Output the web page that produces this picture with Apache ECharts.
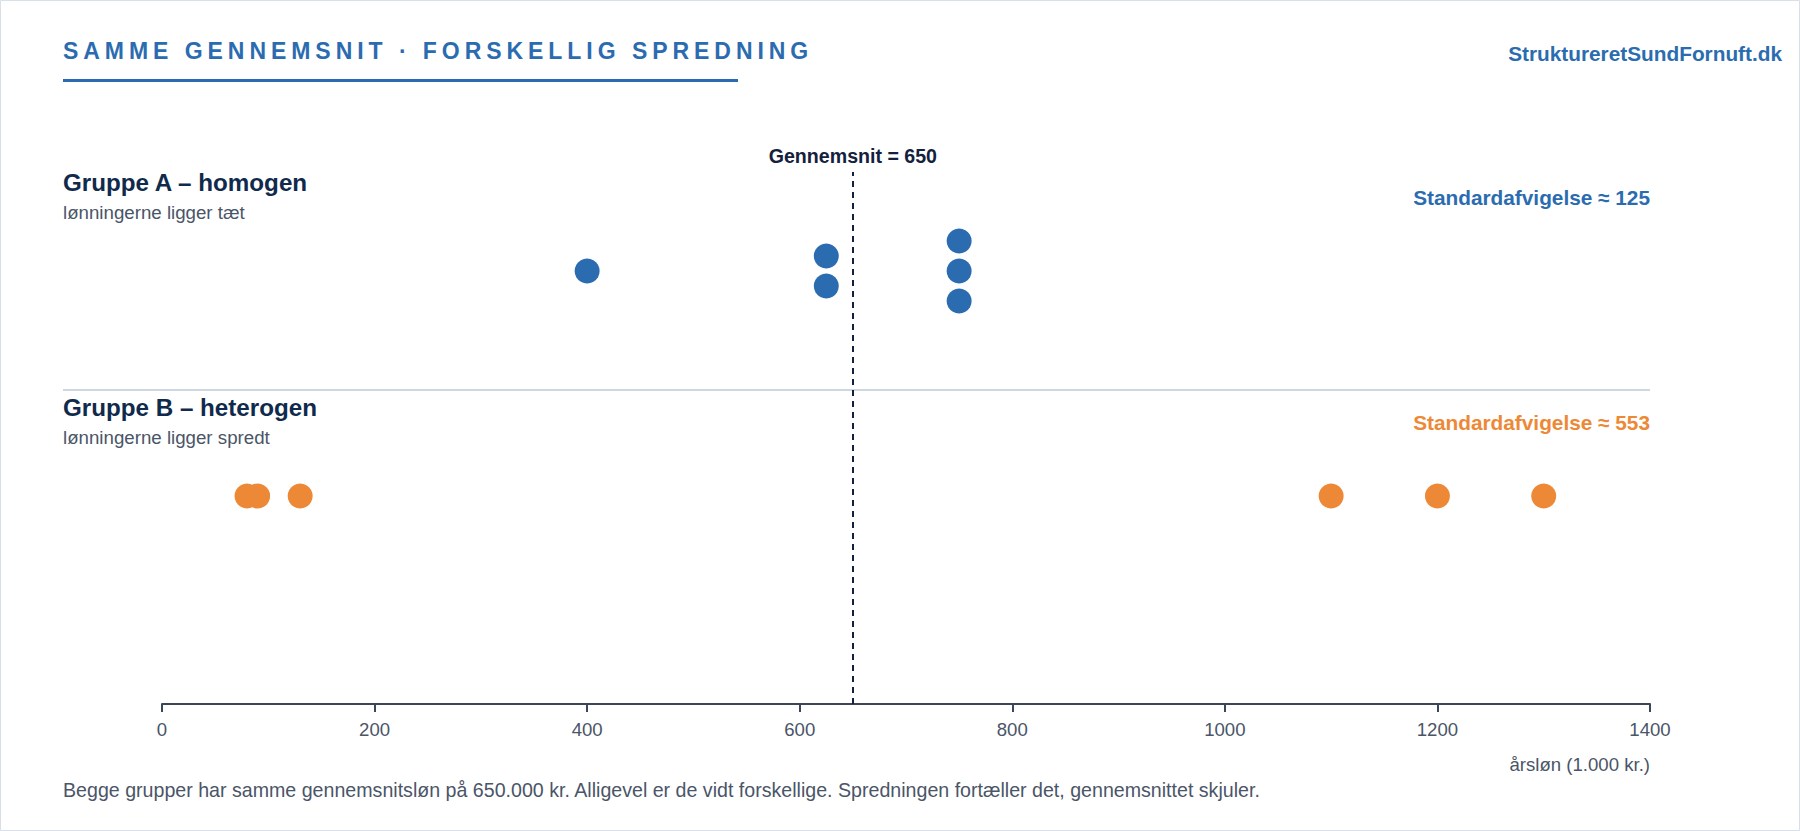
<!DOCTYPE html>
<html>
<head>
<meta charset="utf-8">
<script src="https://cdn.jsdelivr.net/npm/echarts@6/dist/echarts.min.js"></script>
<style>
  html, body { margin: 0; padding: 0; background: #ffffff; }
  #chart { width: 1800px; height: 831px; }
</style>
</head>
<body>
<div id="chart"></div>
<script>
// ---- Data ----
const groupAValues = [400, 625, 625, 750, 750, 750];
const groupBValues = [80, 90, 130, 1100, 1200, 1300];
const xTicks = [0, 200, 400, 600, 800, 1000, 1200, 1400];
const groupNames = ['Gruppe A – homogen', 'Gruppe B – heterogen'];
const groupSubs = ['lønningerne ligger tæt', 'lønningerne ligger spredt'];
const titleText = 'SAMME GENNEMSNIT · FORSKELLIG SPREDNING';
const brandText = 'StruktureretSundFornuft.dk';
const axisNameText = 'årsløn (1.000 kr.)';
const footerText = 'Begge grupper har samme gennemsnitsløn på 650.000 kr. Alligevel er de vidt forskellige. Spredningen fortæller det, gennemsnittet skjuler.';

// ---- Styles ----
const FONT = '"Liberation Sans", Arial, Helvetica, sans-serif';
const BLUE = '#2b6cb0';
const ORANGE = '#ed8936';
const NAVY = '#102a4c';
const GRAY = '#4a5568';
const AXIS = '#3b4759';

// ---- Stats ----
function mean(a) { return a.reduce((s, v) => s + v, 0) / a.length; }
function sd(a) { const m = mean(a); return Math.sqrt(a.reduce((s, v) => s + (v - m) * (v - m), 0) / a.length); }
const meanA = mean(groupAValues);
const sdA = Math.round(sd(groupAValues));
const sdB = Math.round(sd(groupBValues));

// ---- Dot-plot stacking (rows: A = 1, B = 0) ----
const STEP = 30 / 225;
function stackDots(values, row) {
  const counts = {};
  values.forEach(v => counts[v] = (counts[v] || 0) + 1);
  const seen = {};
  return values.map(v => {
    const n = counts[v];
    const i = seen[v] = (seen[v] === undefined ? 0 : seen[v] + 1);
    return [v, row + ((n - 1) / 2 - i) * STEP];
  });
}
const dotsA = stackDots(groupAValues, 1);
const dotsB = stackDots(groupBValues, 0);
const Y_MIN = -208 / 225, Y_MAX = 324 / 225;

const chart = echarts.init(document.getElementById('chart'), null, { renderer: 'svg' });

function txt(text, x, y, size, color, weight, align) {
  return {
    type: 'text', x: x, y: y, silent: true,
    style: {
      text: text, fill: color, font: (weight || 'normal') + ' ' + size + 'px ' + FONT,
      textAlign: align || 'left', textVerticalAlign: 'middle'
    }
  };
}

const option = {
  animation: false,
  backgroundColor: '#ffffff',
  grid: { left: 162, right: 150, top: 172, bottom: 127 },
  xAxis: {
    type: 'value', min: xTicks[0], max: xTicks[xTicks.length - 1], interval: 200,
    axisLine: { show: true, onZero: false, lineStyle: { color: AXIS, width: 2 } },
    axisTick: { show: true, length: 8, lineStyle: { color: AXIS, width: 2 } },
    splitLine: { show: false },
    axisLabel: { fontSize: 18.6, color: GRAY, margin: 16, fontFamily: FONT, formatter: v => String(v) }
  },
  yAxis: { type: 'value', min: Y_MIN, max: Y_MAX, show: false, splitLine: { show: false } },
  series: [
    {
      type: 'scatter', data: dotsA, symbolSize: 25,
      itemStyle: { color: BLUE, opacity: 1 }, silent: true,
      markLine: {
        silent: true, symbol: ['none', 'none'],
        lineStyle: { color: '#14213d', width: 2, type: [6, 5] },
        label: {
          show: true, position: 'end', distance: 6,
          formatter: 'Gennemsnit = ' + Math.round(meanA),
          color: '#14213d', fontSize: 19.6, fontWeight: 'bold', fontFamily: FONT
        },
        data: [[{ coord: [meanA, Y_MIN] }, { coord: [meanA, Y_MAX] }]]
      }
    },
    {
      type: 'scatter', data: dotsB, symbolSize: 25,
      itemStyle: { color: ORANGE, opacity: 1 }, silent: true
    }
  ],
  graphic: [
    { type: 'rect', shape: { x: 0.5, y: 0.5, width: 1799, height: 830 }, style: { fill: 'none', stroke: '#d9dfe7', lineWidth: 1 }, silent: true },
    Object.assign(txt(titleText, 63, 51, 23, BLUE, 'bold'), { id: 'mainTitle' }),
    { type: 'rect', shape: { x: 63, y: 79, width: 675, height: 3 }, style: { fill: BLUE }, silent: true },
    txt(brandText, 1782, 53, 20.8, BLUE, 'bold', 'right'),
    txt(groupNames[0], 63, 182, 24.2, NAVY, 'bold'),
    txt(groupSubs[0], 63, 212, 18.7, GRAY),
    txt('Standardafvigelse ≈ ' + sdA, 1650, 197, 20.8, BLUE, 'bold', 'right'),
    { type: 'rect', shape: { x: 63, y: 389, width: 1587, height: 2 }, style: { fill: '#cdd7e4' }, silent: true },
    txt(groupNames[1], 63, 407, 24.2, NAVY, 'bold'),
    txt(groupSubs[1], 63, 437, 18.7, GRAY),
    txt('Standardafvigelse ≈ ' + sdB, 1650, 422, 20.8, ORANGE, 'bold', 'right'),
    txt(axisNameText, 1650, 764, 18.6, GRAY, 'normal', 'right'),
    txt(footerText, 63, 790, 19.63, GRAY)
  ]
};
chart.setOption(option);

function spaceTitle() {
  document.querySelectorAll('#chart text').forEach(t => {
    if (t.textContent === titleText) t.setAttribute('letter-spacing', '4.95');
  });
}
spaceTitle();
chart.on('finished', spaceTitle);
</script>
</body>
</html>
